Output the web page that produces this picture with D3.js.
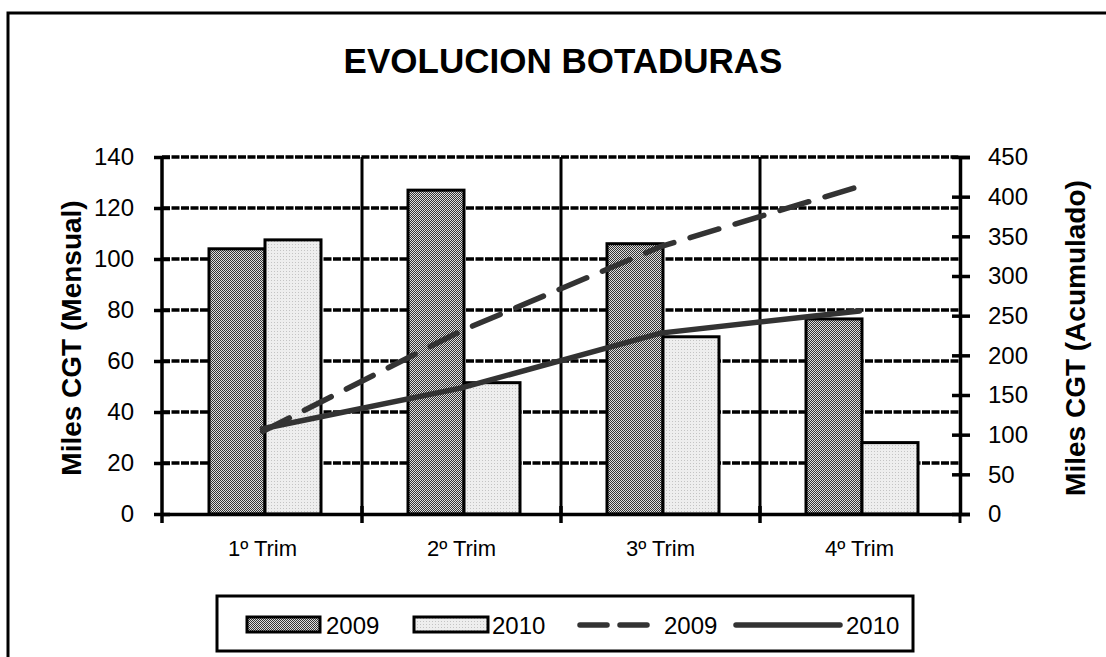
<!DOCTYPE html>
<html>
<head>
<meta charset="utf-8">
<title>Evolucion botaduras</title>
<script src="https://cdn.jsdelivr.net/npm/d3@7"></script>
<style>
  body { margin: 0; background: #fff; }
  svg { font-family: Arial, "Liberation Sans", sans-serif; }
</style>
</head>
<body>
<script>
// data
var categories = ["1º Trim", "2º Trim", "3º Trim", "4º Trim"];
var bars2009 = [104, 127, 106, 76.5];
var bars2010 = [107.5, 51.5, 69.5, 28];
var acum2009 = [104, 231, 337, 413];
var acum2010 = [107.5, 159, 228, 256];
var leftTicks = [0, 20, 40, 60, 80, 100, 120, 140];
var rightTicks = [0, 50, 100, 150, 200, 250, 300, 350, 400, 450];

var W = 1106, H = 657;
var margin = {top: 157, right: 146, bottom: 143, left: 162};
var width = W - margin.left - margin.right;
var height = H - margin.top - margin.bottom;

var svg = d3.select("body").append("svg")
  .attr("width", W)
  .attr("height", H);

// patterns for the bars
var defs = svg.append("defs");
var p1 = defs.append("pattern").attr("id", "dark")
  .attr("width", 2).attr("height", 2).attr("patternUnits", "userSpaceOnUse");
p1.append("rect").attr("width", 2).attr("height", 2).attr("fill", "#ddd");
p1.append("rect").attr("width", 1).attr("height", 1).attr("fill", "#333");
p1.append("rect").attr("x", 1).attr("y", 1).attr("width", 1).attr("height", 1).attr("fill", "#333");
var p2 = defs.append("pattern").attr("id", "light")
  .attr("width", 3).attr("height", 3).attr("patternUnits", "userSpaceOnUse");
p2.append("rect").attr("width", 3).attr("height", 3).attr("fill", "#eee");
p2.append("rect").attr("width", 1).attr("height", 1).attr("fill", "#c4c4c4");

// outer frame (right and bottom edges fall outside the picture)
svg.append("rect")
  .attr("x", 8).attr("y", 13)
  .attr("width", 1110).attr("height", 700)
  .attr("fill", "none").attr("stroke", "#000").attr("stroke-width", 3);

svg.append("text")
  .attr("x", 563).attr("y", 73)
  .attr("text-anchor", "middle")
  .attr("font-size", 35).attr("font-weight", "bold")
  .text("EVOLUCION BOTADURAS");

var g = svg.append("g")
  .attr("transform", "translate(" + margin.left + "," + margin.top + ")");

var x = d3.scaleBand().domain(categories).range([0, width]).round(true);
var xb = d3.scaleBand().domain(["2009", "2010"]).range([45, x.bandwidth() - 41]).round(true);
var y = d3.scaleLinear().domain([0, 140]).range([height, 0]);
var y2 = d3.scaleLinear().domain([0, 450]).range([height, 0]);

// horizontal grid
g.selectAll(".grid").data(leftTicks.slice(1))
  .enter().append("line")
  .attr("x1", 0).attr("x2", width)
  .attr("y1", function(d) { return y(d); })
  .attr("y2", function(d) { return y(d); })
  .attr("stroke", "#000").attr("stroke-width", 3.5)
  .attr("stroke-dasharray", "8,1.5");

// vertical category separators
g.selectAll(".sep").data(categories.slice(1))
  .enter().append("line")
  .attr("x1", function(d) { return x(d); })
  .attr("x2", function(d) { return x(d); })
  .attr("y1", 0).attr("y2", height)
  .attr("stroke", "#000").attr("stroke-width", 3);

// bars
var cat = g.selectAll(".cat").data(categories)
  .enter().append("g")
  .attr("transform", function(d) { return "translate(" + x(d) + ",0)"; });

cat.append("rect")
  .attr("x", xb("2009")).attr("width", xb.bandwidth())
  .attr("y", function(d, i) { return y(bars2009[i]); })
  .attr("height", function(d, i) { return height - y(bars2009[i]); })
  .attr("fill", "url(#dark)").attr("stroke", "#000").attr("stroke-width", 3);

cat.append("rect")
  .attr("x", xb("2010")).attr("width", xb.bandwidth())
  .attr("y", function(d, i) { return y(bars2010[i]); })
  .attr("height", function(d, i) { return height - y(bars2010[i]); })
  .attr("fill", "url(#light)").attr("stroke", "#000").attr("stroke-width", 3);

// accumulated lines (right axis)
var line = d3.line()
  .x(function(d, i) { return x(categories[i]) + x.bandwidth() / 2; })
  .y(function(d) { return y2(d); });

g.append("path").datum(acum2009)
  .attr("d", line)
  .attr("fill", "none").attr("stroke", "#333").attr("stroke-width", 5.5)
  .attr("stroke-linecap", "round")
  .attr("stroke-dasharray", "30,17");

g.append("path").datum(acum2010)
  .attr("d", line)
  .attr("fill", "none").attr("stroke", "#333").attr("stroke-width", 5.5)
  .attr("stroke-linecap", "round");

// axes
var yAxis = d3.axisLeft(y).tickValues(leftTicks).tickSize(8).tickPadding(20);
var gy = g.append("g").call(yAxis);
gy.selectAll(".tick line").attr("x1", -8).attr("x2", 8);

var yAxis2 = d3.axisRight(y2).tickValues(rightTicks).tickSize(10).tickPadding(18);
var gy2 = g.append("g").attr("transform", "translate(" + width + ",0)").call(yAxis2);
gy2.selectAll(".tick line").attr("x1", -8);

var xAxis = d3.axisBottom(x).tickSize(0).tickPadding(26);
var gx = g.append("g").attr("transform", "translate(0," + height + ")").call(xAxis);
gx.selectAll(".tick")
  .filter(function(d, i) { return i > 0; })
  .append("line")
  .attr("x1", -x.bandwidth() / 2).attr("x2", -x.bandwidth() / 2)
  .attr("y1", -8).attr("y2", 9)
  .attr("stroke", "#000").attr("stroke-width", 3);
gx.append("line")
  .attr("x1", width).attr("x2", width).attr("y1", 0).attr("y2", 9)
  .attr("stroke", "#000").attr("stroke-width", 3);

[gy, gy2, gx].forEach(function(a) {
  a.select(".domain").attr("stroke-width", 3.5);
  a.selectAll(".tick line").attr("stroke-width", 3.5);
  a.selectAll("text").attr("font-size", 24).attr("fill", "#000")
    .attr("font-family", "Arial, 'Liberation Sans', sans-serif");
});
gx.selectAll("text").attr("font-size", 22);
gy.select(".domain").attr("d", "M0,0V" + (height + 9));

// axis titles
svg.append("text")
  .attr("transform", "translate(81,338) rotate(-90)")
  .attr("text-anchor", "middle")
  .attr("font-size", 28).attr("font-weight", "bold")
  .text("Miles CGT  (Mensual)");

svg.append("text")
  .attr("transform", "translate(1085,338) rotate(-90)")
  .attr("text-anchor", "middle")
  .attr("font-size", 28).attr("font-weight", "bold")
  .text("Miles CGT  (Acumulado)");

// legend
var leg = svg.append("g");
leg.append("rect")
  .attr("x", 217).attr("y", 596).attr("width", 696).attr("height", 55)
  .attr("fill", "#fff").attr("stroke", "#000").attr("stroke-width", 3);

var legendItems = [
  {label: "2009", kind: "bar", fill: "url(#dark)", x1: 247, x2: 320, tx: 326},
  {label: "2010", kind: "bar", fill: "url(#light)", x1: 414, x2: 488, tx: 492},
  {label: "2009", kind: "dash", x1: 580, x2: 658, tx: 664},
  {label: "2010", kind: "line", x1: 736, x2: 840, tx: 846}
];
legendItems.forEach(function(d) {
  if (d.kind == "bar") {
    leg.append("rect")
      .attr("x", d.x1).attr("y", 617).attr("width", d.x2 - d.x1).attr("height", 15)
      .attr("fill", d.fill).attr("stroke", "#000").attr("stroke-width", 3);
  } else {
    leg.append("line")
      .attr("x1", d.x1).attr("x2", d.x2).attr("y1", 625).attr("y2", 625)
      .attr("stroke", "#333").attr("stroke-width", 5.5)
      .attr("stroke-linecap", "round")
      .attr("stroke-dasharray", d.kind == "dash" ? "27,13" : null);
  }
  leg.append("text").attr("x", d.tx).attr("y", 634)
    .attr("font-size", 24).text(d.label);
});
</script>
</body>
</html>
